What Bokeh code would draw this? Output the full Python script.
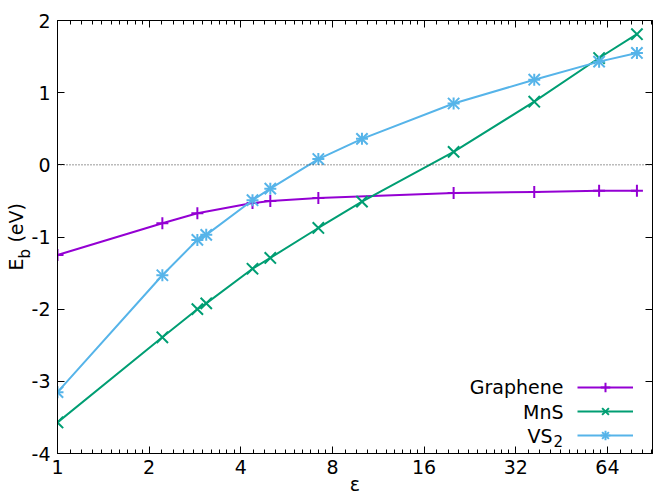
from bokeh.plotting import figure
from bokeh.models import (LogAxis, LinearAxis, FixedTicker, Range1d, Span, Label,
                          Legend, LegendItem, Title)
from bokeh.embed import file_html
from bokeh.resources import INLINE

# ---- data ----
eps_graphene = [1, 2.21, 2.88, 4.37, 5.0, 7.19, 20.0, 36.8, 60.1, 80.0]
eb_graphene = [-1.25, -0.81, -0.67, -0.53, -0.50, -0.46, -0.39, -0.375, -0.36, -0.36]

eps_mns = [1, 2.21, 2.88, 3.08, 4.37, 5.0, 7.19, 10.0, 20.0, 36.8, 60.1, 80.0]
eb_mns = [-3.57, -2.39, -2.00, -1.92, -1.44, -1.29, -0.875, -0.51, 0.18, 0.875, 1.48, 1.81]

eps_vs2 = [1, 2.21, 2.88, 3.08, 4.37, 5.0, 7.19, 10.0, 20.0, 36.8, 60.1, 80.0]
eb_vs2 = [-3.15, -1.53, -1.04, -0.97, -0.49, -0.33, 0.08, 0.36, 0.85, 1.18, 1.43, 1.55]

x_ticks = [1, 2, 4, 8, 16, 32, 64]
x_tick_labels = ["1", "2", "4", "8", "16", "32", "64"]
y_ticks = [-4, -3, -2, -1, 0, 1, 2]
y_tick_labels = ["-4", "-3", "-2", "-1", "0", "1", "2"]
series_names = ["Graphene", "MnS", "VS"]
series_subscripts = ["", "", "2"]
colors = ["#9400d3", "#009e73", "#56b4e9"]

FONT = "DejaVu Sans"
FS = "19px"
FS_SUB = "15px"

x_minor = [b * (1 + k / 10) for b in x_ticks for k in range(1, 10)]

p = figure(width=654, height=499, x_axis_type="log",
           x_range=Range1d(1, 90), y_range=Range1d(-4, 2),
           output_backend="svg", toolbar_location=None,
           min_border_left=57, min_border_right=2,
           min_border_top=20, min_border_bottom=46)
p.xgrid.visible = False
p.ygrid.visible = False
p.outline_line_color = "black"
p.outline_line_width = 1
p.background_fill_color = "white"
p.border_fill_color = "white"

def style(ax, show_labels=True):
    ax.axis_line_color = "black"
    ax.axis_line_width = 1
    ax.major_tick_in = 7
    ax.major_tick_out = 0
    ax.minor_tick_in = 4
    ax.minor_tick_out = 0
    ax.major_tick_line_color = "black"
    ax.minor_tick_line_color = "black"
    ax.major_label_text_font = FONT
    if show_labels:
        ax.major_label_text_color = "black"
        ax.major_label_text_font_size = FS
        ax.major_label_standoff = 6
    else:
        ax.major_label_text_color = None
        ax.major_label_text_font_size = "1px"
        ax.major_label_standoff = 0

p.xaxis.ticker = FixedTicker(ticks=x_ticks, minor_ticks=x_minor)
p.xaxis.major_label_overrides = {t: l for t, l in zip(x_ticks, x_tick_labels)}
p.yaxis.ticker = FixedTicker(ticks=y_ticks, minor_ticks=[])
p.yaxis.major_label_overrides = {t: l for t, l in zip(y_ticks, y_tick_labels)}
style(p.xaxis[0])
style(p.yaxis[0])
p.yaxis.minor_tick_line_color = None
p.yaxis.major_label_standoff = 7

# x axis label
p.xaxis.axis_label = "\u03b5"
p.xaxis.axis_label_text_font = FONT
p.xaxis.axis_label_text_font_size = FS
p.xaxis.axis_label_text_font_style = "normal"
p.xaxis.axis_label_text_color = "black"
p.xaxis.axis_label_standoff = -4

top = LogAxis(ticker=FixedTicker(ticks=x_ticks, minor_ticks=x_minor))
style(top, False)
p.add_layout(top, "above")
right = LinearAxis(ticker=FixedTicker(ticks=y_ticks, minor_ticks=[]))
style(right, False)
right.minor_tick_line_color = None
p.add_layout(right, "right")

p.add_layout(Span(location=0, dimension="width", line_color="#333333",
                  line_width=1, line_dash="1 2"))

CROSS = 12
XS = 16
# Graphene
l1 = p.line(eps_graphene, eb_graphene, line_color=colors[0], line_width=2)
m1 = p.scatter(eps_graphene, eb_graphene, marker="cross", size=CROSS,
               line_color=colors[0], line_width=2)
# MnS
l2 = p.line(eps_mns, eb_mns, line_color=colors[1], line_width=2)
m2 = p.scatter(eps_mns, eb_mns, marker="x", size=XS,
               line_color=colors[1], line_width=2)
# VS2
l3 = p.line(eps_vs2, eb_vs2, line_color=colors[2], line_width=2)
m3a = p.scatter(eps_vs2, eb_vs2, marker="cross", size=CROSS,
                line_color=colors[2], line_width=2)
m3b = p.scatter(eps_vs2, eb_vs2, marker="x", size=XS,
                line_color=colors[2], line_width=2)

legend = Legend(items=[LegendItem(label=" ", renderers=[l1, m1]),
                       LegendItem(label=" ", renderers=[l2, m2]),
                       LegendItem(label=" ", renderers=[l3, m3a, m3b])],
                location=(520, 6), glyph_width=56, glyph_height=24,
                label_width=0, label_height=24, label_standoff=0,
                label_text_font_size="1px", label_text_color=None,
                padding=0, margin=0, spacing=0,
                border_line_color=None, background_fill_alpha=0)
p.add_layout(legend)

# legend texts (right aligned, left of the samples, as in the reference)
for name, sub, yy in zip(series_names, series_subscripts, [67, 42, 18]):
    right_x = 506 if not sub else 495
    p.add_layout(Label(x=right_x, y=yy, x_units="screen", y_units="screen",
                       text=name, text_font=FONT, text_font_size=FS,
                       text_align="right", text_baseline="middle",
                       text_color="black"))
    if sub:
        p.add_layout(Label(x=right_x + 1, y=yy - 5, x_units="screen", y_units="screen",
                           text=sub, text_font=FONT, text_font_size=FS_SUB,
                           text_align="left", text_baseline="middle",
                           text_color="black"))

# y axis label  E_b (eV) built from two side titles (subscript nearer the axis)
t_sub = Title(text="b", text_font=FONT, text_font_size=FS_SUB,
              text_font_style="normal", text_color="black",
              align="left", offset=195, standoff=-10)
p.add_layout(t_sub, "left")
t_main = Title(text="E\u00a0\u00a0\u2009(eV)", text_font=FONT, text_font_size=FS,
               text_font_style="normal", text_color="black",
               align="left", offset=183, standoff=-17)
p.add_layout(t_main, "left")

open("out.html", "w").write(file_html(p, INLINE))
